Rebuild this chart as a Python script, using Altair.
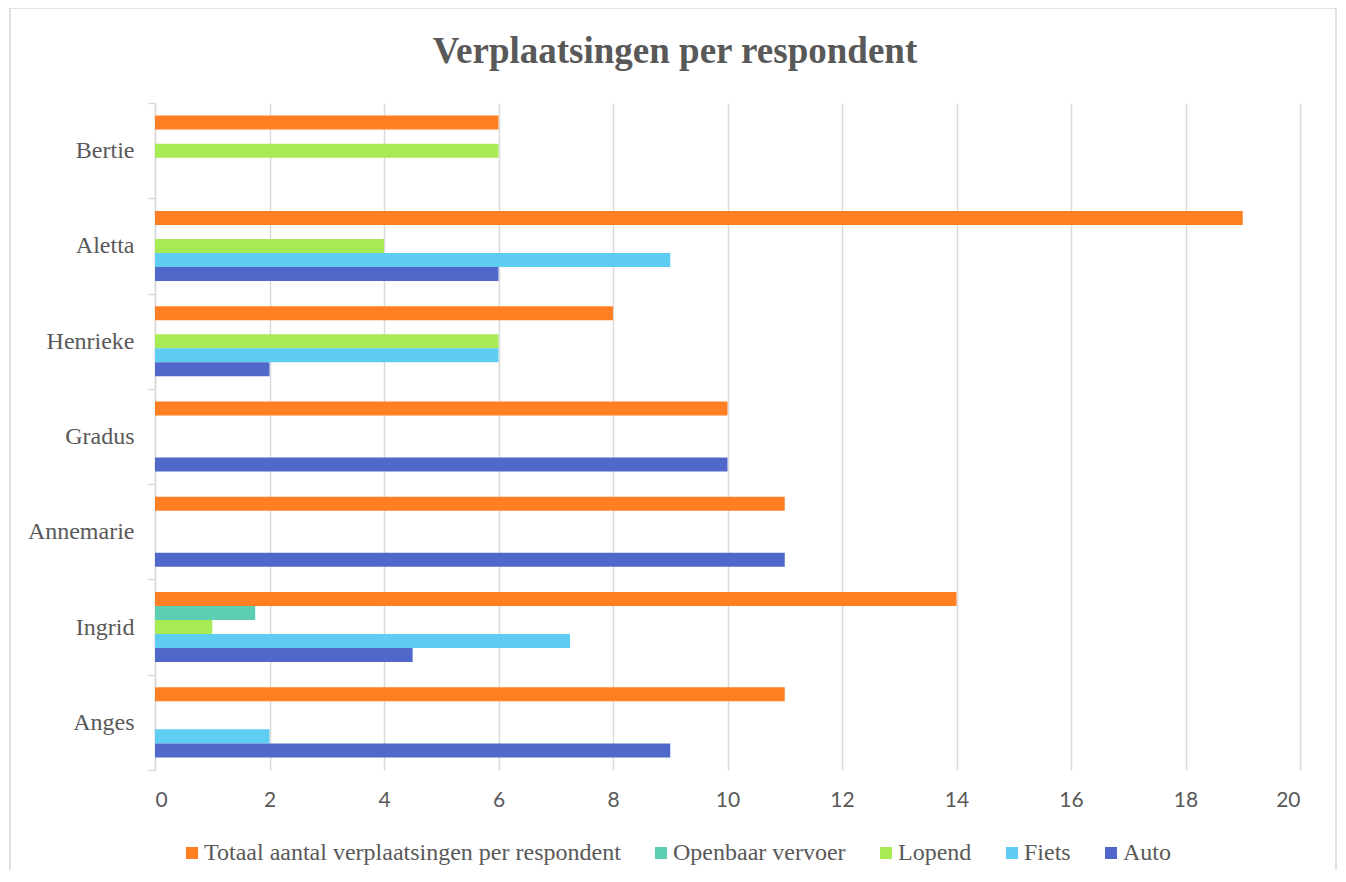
import altair as alt
import pandas as pd

names = ["Bertie", "Aletta", "Henrieke", "Gradus", "Annemarie", "Ingrid", "Anges"]
series = ["Totaal aantal verplaatsingen per respondent", "Openbaar vervoer", "Lopend", "Fiets", "Auto"]
colors = ["#FF7F22", "#5DCEB1", "#A8EA53", "#5FCCF2", "#4F68C9"]

totaal = [6, 19, 8, 10, 11, 14, 11]
openbaar = [0, 0, 0, 0, 0, 1.75, 0]
lopend = [6, 4, 6, 0, 0, 1, 0]
fiets = [0, 9, 6, 0, 0, 7.25, 2]
auto = [0, 6, 2, 10, 11, 4.5, 9]
x_ticks = [0, 2, 4, 6, 8, 10, 12, 14, 16, 18, 20]
title_text = "Verplaatsingen per respondent"

rows = []
for s, vals in zip(series, [totaal, openbaar, lopend, fiets, auto]):
    for n, v in zip(names, vals):
        if v > 0:
            rows.append({"name": n, "series": s, "value": v})
df = pd.DataFrame(rows)

W, H = 1145, 667
GRAY = "#595959"
LINE = "#d9d9d9"
SERIF = "Liberation Serif"

bars = alt.Chart(df).mark_bar().encode(
    y=alt.Y("name:N", sort=names,
            scale=alt.Scale(paddingInner=0, paddingOuter=0),
            axis=alt.Axis(title=None, tickBand="extent", domain=True, domainColor=LINE,
                          domainWidth=1.5, ticks=True, tickColor=LINE, tickWidth=1.5,
                          tickSize=7, grid=False, labelFont=SERIF,
                          labelFontSize=24, labelColor=GRAY, labelPadding=14)),
    yOffset=alt.YOffset("series:N", sort=series,
                        scale=alt.Scale(domain=series, paddingInner=0, paddingOuter=0.9)),
    x=alt.X("value:Q", scale=alt.Scale(domain=[0, 20], nice=False),
            axis=alt.Axis(title=None, values=x_ticks, grid=True, gridColor=LINE,
                          gridWidth=1.5, domain=False, ticks=False,
                          labelFont="Lato", labelFontSize=21, labelColor=GRAY,
                          labelPadding=19)),
    color=alt.Color("series:N", sort=series,
                    scale=alt.Scale(domain=series, range=colors),
                    legend=alt.Legend(title=None, orient="none", legendX=25, legendY=738,
                                      direction="horizontal", columns=5, columnPadding=28,
                                      symbolType="square", symbolSize=144,
                                      symbolStrokeWidth=0, labelFont=SERIF,
                                      labelFontSize=24, labelColor=GRAY, labelOffset=0,
                                      labelLimit=600)),
)

border = alt.Chart(alt.Data(values=[{"a": 1}])).mark_rect(
    fill=None, stroke=LINE, strokeWidth=1.5
).encode(
    x=alt.value(-145), x2=alt.value(W + 36), y=alt.value(-95), y2=alt.value(H + 120)
)

title = alt.Chart(alt.Data(values=[{"t": title_text}])).mark_text(
    font=SERIF, fontSize=37, fontWeight="bold", color=GRAY, align="center",
    baseline="alphabetic"
).encode(
    text="t:N", x=alt.value(520), y=alt.value(-40)
)

chart = alt.layer(border, bars, title).properties(
    width=W, height=H,
    autosize=alt.AutoSizeParams(type="none"),
    padding={"left": 147, "top": 95, "right": 37, "bottom": 100},
).configure_view(stroke=None).configure_legend(labelFont=SERIF, labelFontSize=24)

chart.save("out.html", embed_options={"renderer": "svg", "actions": False})
